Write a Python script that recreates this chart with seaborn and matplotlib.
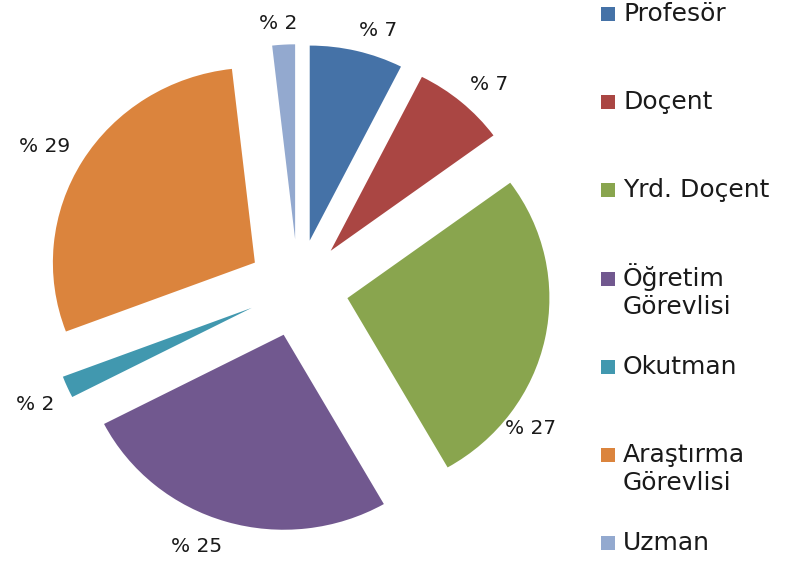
import matplotlib
matplotlib.use("Agg")
import numpy as np
import matplotlib.pyplot as plt
from matplotlib.patches import Rectangle
import seaborn as sns

categories = ["Profesör", "Doçent", "Yrd. Doçent", "Öğretim\nGörevlisi",
              "Okutman", "Araştırma\nGörevlisi", "Uzman"]
values = [7.4, 7.4, 26.6, 25.49, 1.8, 28.7, 1.8]   # percent
colors = ["#4572A7", "#AA4643", "#89A54E", "#71588F", "#4198AF", "#DB843D", "#93A9CF"]

sns.set_theme(style="white")
plt.rcParams["font.family"] = ["DejaVu Sans"]

W, H = 792, 585
fig = plt.figure(figsize=(W / 100, H / 100), dpi=100)
ax = fig.add_axes([0, 0, 1, 1])

# pie geometry in pixels (slightly wider than tall, as in the reference)
cx, cy, rx, ry = 298, 288, 202, 195
plot_right = 558  # right edge of plot area (px)

wedges, _ = ax.pie(
    values,
    colors=colors,
    startangle=90,
    counterclock=False,
    explode=[0.25] * len(values),
    radius=1,
    wedgeprops=dict(linewidth=0),
)
ax.set_xlim(-cx / rx, (W - cx) / rx)
ax.set_ylim(-(H - cy) / ry, cy / ry)
ax.set_aspect("auto")
ax.axis("off")

# outside-end data labels
renderer = fig.canvas.get_renderer()
for w, v in zip(wedges, values):
    t = ax.text(0, 0, f"% {v:.0f}", fontsize=14.5, color="#1a1a1a",
                ha="center", va="center_baseline")
    bb = t.get_window_extent(renderer)
    a, b = bb.width / 2 / rx, bb.height / 2 / ry
    theta = np.deg2rad((w.theta1 + w.theta2) / 2)
    wx, wy = w.center
    k = 1.07
    for _ in range(90):
        ux, uy = np.cos(theta), np.sin(theta)
        x = wx + k * ux + a * np.clip(4 * ux, -1, 1)
        y = wy + k * uy + b * np.sign(uy)
        if (x + a) * rx + cx <= plot_right:
            break
        # label would leave the plot area: slide it along the arc, hug the slice
        theta -= np.deg2rad(1)
        k = 0.99
    t.set_position((x, y))

# legend (Excel style: equal slots, marker aligned with first line)
top, step, lh = 14, 88.2, 28
for i, (name, col) in enumerate(zip(categories, colors)):
    yc = top + i * step
    fig.patches.append(Rectangle((601 / W, 1 - (yc + 7) / H), 14 / W, 14 / H,
                                 transform=fig.transFigure, facecolor=col,
                                 edgecolor="none"))
    for j, line in enumerate(name.split("\n")):
        fig.text(623 / W, 1 - (yc + 7 + j * lh) / H, line,
                 transform=fig.transFigure, fontsize=18, color="#1a1a1a",
                 va="baseline", ha="left")

fig.savefig("out.png", dpi=100)
